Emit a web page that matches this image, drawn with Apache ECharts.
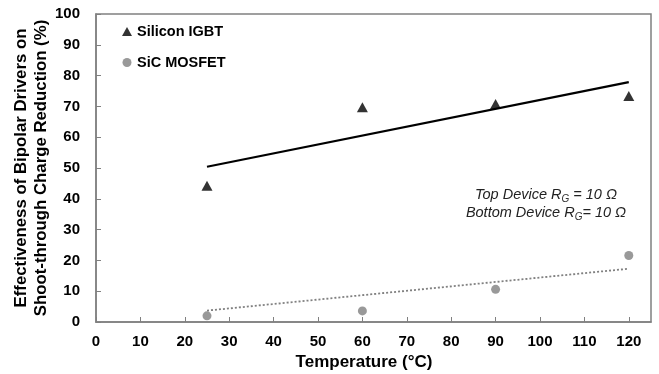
<!DOCTYPE html>
<html><head><meta charset="utf-8">
<script src="https://cdn.jsdelivr.net/npm/echarts@6/dist/echarts.min.js"></script>
<style>html,body{margin:0;padding:0;background:#fff}#c{width:659px;height:374px}</style>
</head><body><div id="c"></div>
<script>
const temps = [25, 60, 90, 120];
const igbt = [44.2, 69.7, 70.8, 73.4];
const sic = [2.0, 3.6, 10.6, 21.6];
const trendX = [25, 120];
const igbtTrend = [50.4, 77.9];
const sicTrend = [3.7, 17.3];
const xTicks = [0, 10, 20, 30, 40, 50, 60, 70, 80, 90, 100, 110, 120];
const yTicks = [0, 10, 20, 30, 40, 50, 60, 70, 80, 90, 100];

const chart = echarts.init(document.getElementById('c'));
const font = 'Liberation Sans, Arial, sans-serif';
chart.setOption({
  animation: false,
  grid: {left: 96, right: 8, top: 14, bottom: 52, show: true, borderColor: '#808080', borderWidth: 1.5,
         containLabel: false, outerBoundsMode: 'none'},
  legend: {
    orient: 'vertical', left: 117, top: 19, itemGap: 16, itemWidth: 10, itemHeight: 9,
    data: ['Silicon IGBT', 'SiC MOSFET'],
    textStyle: {fontFamily: font, fontWeight: 'bold', fontSize: 14.5, color: '#000'}
  },
  xAxis: {
    type: 'value', min: 0, max: 125, interval: 10,
    name: 'Temperature (°C)', nameLocation: 'middle', nameGap: 32, nameMoveOverlap: false,
    nameTextStyle: {fontFamily: font, fontWeight: 'bold', fontSize: 17, color: '#000', padding: [0, 19, 0, 0]},
    axisLine: {lineStyle: {color: '#808080', width: 1.5}},
    axisTick: {inside: true, length: 5, lineStyle: {color: '#808080'}},
    axisLabel: {showMaxLabel: false, margin: 12,
      formatter: v => xTicks.includes(v) ? String(v) : '',
      fontFamily: font, fontWeight: 'bold', fontSize: 15, color: '#000'},
    splitLine: {show: false}
  },
  yAxis: {
    type: 'value', min: 0, max: 100, interval: 10,
    name: 'Effectiveness of Bipolar Drivers on\nShoot-through Charge Reduction (%)',
    nameLocation: 'middle', nameGap: 45, nameMoveOverlap: false,
    nameTextStyle: {fontFamily: font, fontWeight: 'bold', fontSize: 16.8, color: '#000', lineHeight: 20},
    axisLine: {lineStyle: {color: '#808080', width: 1.5}},
    axisTick: {inside: true, length: 5, lineStyle: {color: '#808080'}},
    axisLabel: {margin: 16, formatter: v => yTicks.includes(v) ? String(v) : '',
      fontFamily: font, fontWeight: 'bold', fontSize: 15, color: '#000'},
    splitLine: {show: false}
  },
  series: [
    {name: 'igbtTrend', type: 'line', data: trendX.map((x, i) => [x, igbtTrend[i]]), symbol: 'none',
     lineStyle: {color: '#000', width: 2.2}, z: 2},
    {name: 'sicTrend', type: 'line', data: trendX.map((x, i) => [x, sicTrend[i]]), symbol: 'none',
     lineStyle: {color: '#808080', width: 1.8, type: [2, 2]}, z: 2},
    {name: 'Silicon IGBT', type: 'scatter', symbol: 'triangle', symbolSize: [11, 10],
     itemStyle: {color: '#000'}, data: temps.map((x, i) => [x, igbt[i]]), z: 3},
    {name: 'SiC MOSFET', type: 'scatter', symbol: 'circle', symbolSize: 9,
     itemStyle: {color: '#808080'}, data: temps.map((x, i) => [x, sic[i]]), z: 3}
  ],
  graphic: [
    {type: 'text', x: 546, y: 204, style: {
      rich: {
        t: {fontFamily: font, fontStyle: 'italic', fontSize: 14.5, fill: '#222'},
        s: {fontFamily: font, fontStyle: 'italic', fontSize: 10, fill: '#333', verticalAlign: 'bottom', padding: [7, 0, 0, 0]}
      },
      text: '{t|Top Device R}{s|G}{t| = 10 Ω}\n{t|Bottom Device R}{s|G}{t|= 10 Ω}',
      lineHeight: 18, align: 'center', verticalAlign: 'middle'
    }}
  ]
});
</script></body></html>
